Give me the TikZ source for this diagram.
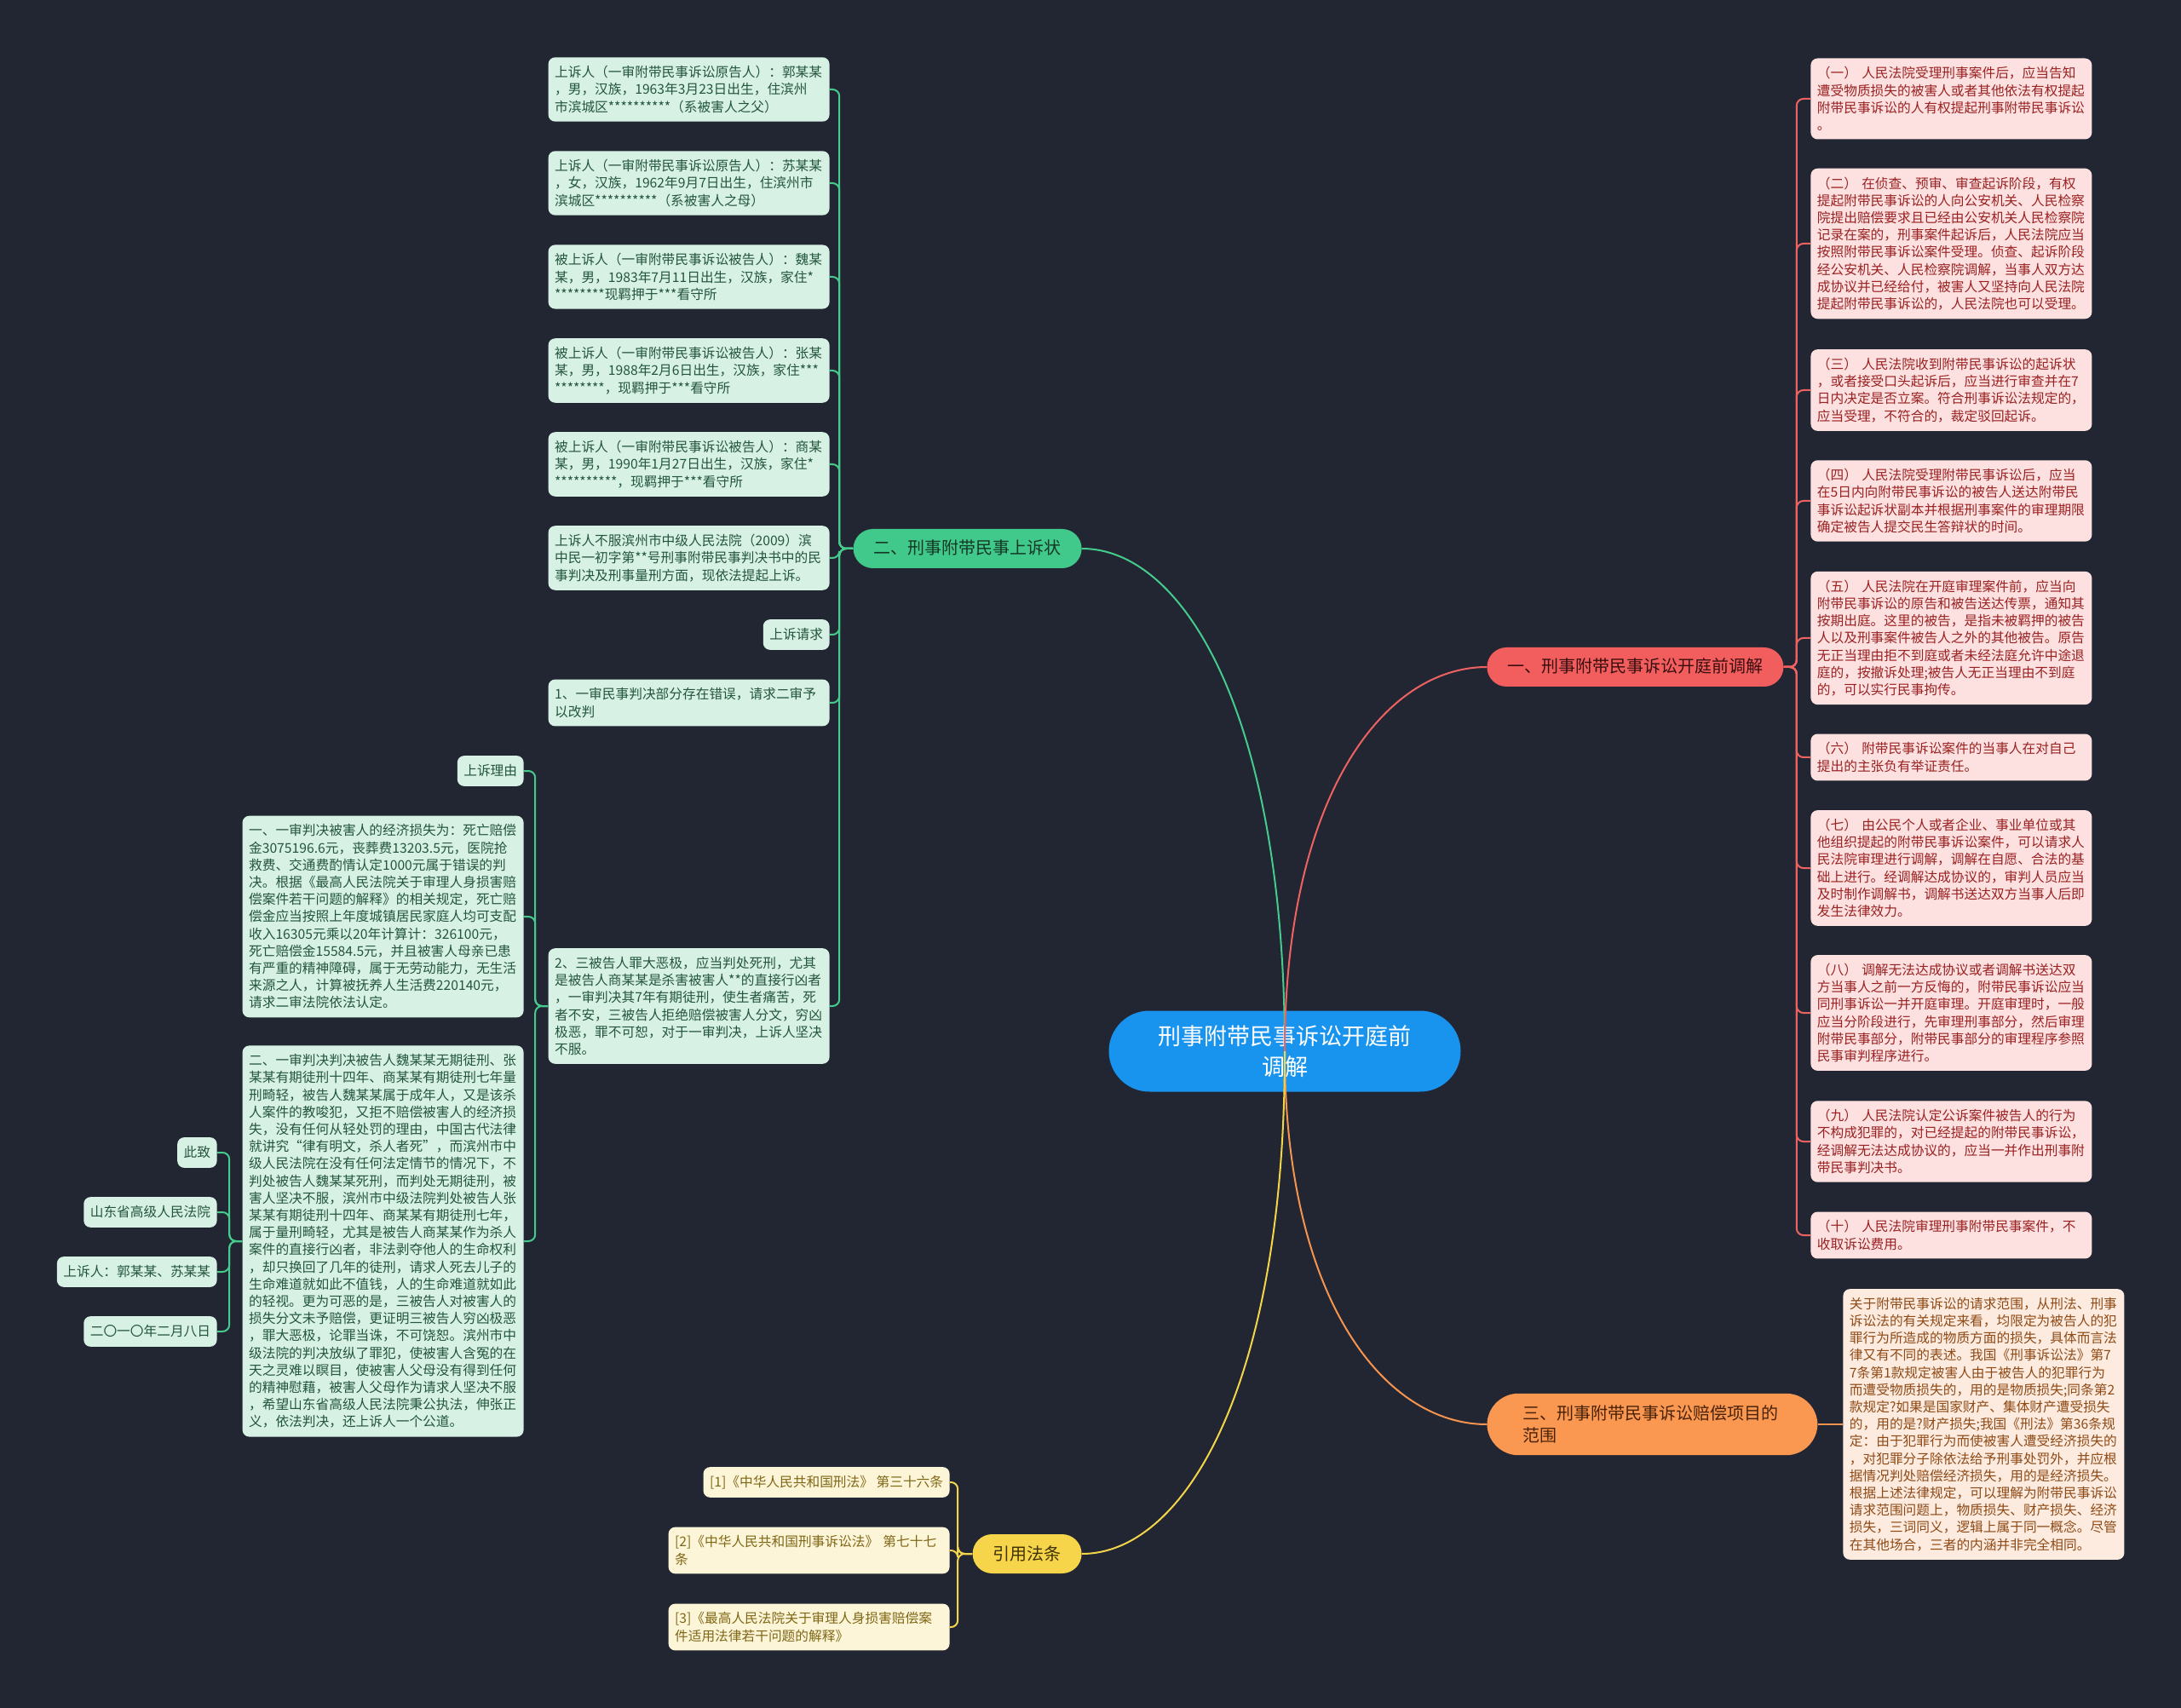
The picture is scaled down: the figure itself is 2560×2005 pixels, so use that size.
\documentclass[tikz,border=0pt]{standalone}
\usepackage{fontspec}
\setmainfont{Noto Sans CJK SC}

\definecolor{bgcol}{HTML}{222632}
\definecolor{rootfill}{HTML}{1893EE}
\definecolor{gfill}{HTML}{D7F2E4}
\definecolor{gtext}{HTML}{24553D}
\definecolor{gcol}{HTML}{45CB8C}
\definecolor{b2fill}{HTML}{40C98A}
\definecolor{b2text}{HTML}{163826}
\definecolor{rfill}{HTML}{FDE1E1}
\definecolor{rtext}{HTML}{9A2121}
\definecolor{rcol}{HTML}{EE6262}
\definecolor{b1fill}{HTML}{F25E5E}
\definecolor{b1text}{HTML}{3A0E0E}
\definecolor{ofill}{HTML}{FDEBDF}
\definecolor{otext}{HTML}{8E4A16}
\definecolor{ocol}{HTML}{F5944F}
\definecolor{b3fill}{HTML}{FA9852}
\definecolor{b3text}{HTML}{4A2208}
\definecolor{yfill}{HTML}{FDF5D8}
\definecolor{ytext}{HTML}{7F6716}
\definecolor{ycol}{HTML}{F3D54A}
\definecolor{b4fill}{HTML}{F6D54A}
\definecolor{b4text}{HTML}{3F3205}

\newcommand\leaffont{\fontsize{7.85pt}{10.1pt}\selectfont}

\tikzset{
  root/.style={fill=rootfill, text=white, rounded corners=23.75pt, minimum width=206.5pt,
    minimum height=47.5pt, align=center, font=\fontsize{13.5pt}{18pt}\selectfont},
  branch/.style={rounded corners=11.5pt, font=\fontsize{10pt}{13pt}\selectfont,
    inner xsep=12pt, inner ysep=6.5pt, text height=8.5pt, text depth=1.5pt},
  leaf/.style={rounded corners=4pt, inner xsep=3.75pt, inner ysep=5pt, font=\leaffont, align=left},
  wide/.style={text width=157.5pt},
  single/.style={text height=6.7pt, text depth=1.15pt},
  gleaf/.style={leaf, fill=gfill, text=gtext},
  rleaf/.style={leaf, fill=rfill, text=rtext, wide, anchor=west},
  oleaf/.style={leaf, fill=ofill, text=otext},
  yleaf/.style={leaf, fill=yfill, text=ytext},
  gconn/.style={draw=gcol, line width=1pt},
  rconn/.style={draw=rcol, line width=1pt},
  oconn/.style={draw=ocol, line width=1pt},
  yconn/.style={draw=ycol, line width=1pt},
  sub/.style={rounded corners=4pt}
}

\begin{document}
\begin{tikzpicture}[x=0.5pt, y=-0.5pt]
  \fill[bgcol] (0,0) rectangle (2560,2005);
  \useasboundingbox (0,0) rectangle (2560,2005);

  % Central topic
  \node[root] (root) at (1508,1234) {刑事附带民事诉讼开庭前\\调解};

  % Main branches
  \node[branch, fill=b2fill, text=b2text, anchor=east] (b2) at (1270,644) {二、刑事附带民事上诉状};
  \node[branch, fill=b1fill, text=b1text, anchor=west] (b1) at (1745,783) {一、刑事附带民事诉讼开庭前调解};
  \node[rounded corners=18.5pt, fill=b3fill, text=b3text, anchor=west, align=left, text width=152pt,
    inner xsep=21pt, inner ysep=7pt, font=\fontsize{10pt}{13pt}\selectfont] (b3) at (1745,1672)
    {三、刑事附带民事诉讼赔偿项目的\\范围};
  \node[branch, fill=b4fill, text=b4text, anchor=east] (b4) at (1270,1824) {引用法条};

  % Appeal: parties and facts
  \foreach \i/\txt in {
    1/{上诉人（一审附带民事诉讼原告人）：郭某某\\，男，汉族，1963年3月23日出生，住滨州\\市滨城区**********（系被害人之父）},
    2/{上诉人（一审附带民事诉讼原告人）：苏某某\\，女，汉族，1962年9月7日出生，住滨州市\\滨城区**********（系被害人之母）},
    3/{被上诉人（一审附带民事诉讼被告人）：魏某\\某，男，1983年7月11日出生，汉族，家住*\\*********现羁押于***看守所},
    4/{被上诉人（一审附带民事诉讼被告人）：张某\\某，男，1988年2月6日出生，汉族，家住***\\*********，现羁押于***看守所},
    5/{被上诉人（一审附带民事诉讼被告人）：商某\\某，男，1990年1月27日出生，汉族，家住*\\***********，现羁押于***看守所},
    6/{上诉人不服滨州市中级人民法院（2009）滨\\中民一初字第**号刑事附带民事判决书中的民\\事判决及刑事量刑方面，现依法提起上诉。}
  }{
    \node[gleaf, wide, anchor=east] (g\i) at (974,{105+110*(\i-1)}) {\txt};
  }
  \node[gleaf, single, anchor=east] (g7) at (974,745) {上诉请求};
  \node[gleaf, wide, anchor=east] (g8) at (974,825) {1、一审民事判决部分存在错误，请求二审予\\以改判};
  \node[gleaf, wide, anchor=east] (g9) at (974,1181) {2、三被告人罪大恶极，应当判处死刑，尤其\\是被告人商某某是杀害被害人**的直接行凶者\\，一审判决其7年有期徒刑，使生者痛苦，死\\者不安，三被告人拒绝赔偿被害人分文，穷凶\\极恶，罪不可恕，对于一审判决，上诉人坚决\\不服。};

  % Grounds of appeal
  \node[gleaf, single, anchor=east] (s1) at (615,905) {上诉理由};
  \node[gleaf, wide, anchor=east] (s2) at (615,1076) {一、一审判决被害人的经济损失为：死亡赔偿\\金3075196.6元，丧葬费13203.5元，医院抢\\救费、交通费酌情认定1000元属于错误的判\\决。根据《最高人民法院关于审理人身损害赔\\偿案件若干问题的解释》的相关规定，死亡赔\\偿金应当按照上年度城镇居民家庭人均可支配\\收入16305元乘以20年计算计：326100元，\\死亡赔偿金15584.5元，并且被害人母亲已患\\有严重的精神障碍，属于无劳动能力，无生活\\来源之人，计算被抚养人生活费220140元，\\请求二审法院依法认定。};
  \node[gleaf, wide, anchor=east] (s3) at (615,1457) {二、一审判决判决被告人魏某某无期徒刑、张\\某某有期徒刑十四年、商某某有期徒刑七年量\\刑畸轻，被告人魏某某属于成年人，又是该杀\\人案件的教唆犯，又拒不赔偿被害人的经济损\\失，没有任何从轻处罚的理由，中国古代法律\\就讲究“律有明文，杀人者死”，而滨州市中\\级人民法院在没有任何法定情节的情况下，不\\判处被告人魏某某死刑，而判处无期徒刑，被\\害人坚决不服，滨州市中级法院判处被告人张\\某某有期徒刑十四年、商某某有期徒刑七年，\\属于量刑畸轻，尤其是被告人商某某作为杀人\\案件的直接行凶者，非法剥夺他人的生命权利\\，却只换回了几年的徒刑，请求人死去儿子的\\生命难道就如此不值钱，人的生命难道就如此\\的轻视。更为可恶的是，三被告人对被害人的\\损失分文未予赔偿，更证明三被告人穷凶极恶\\，罪大恶极，论罪当诛，不可饶恕。滨州市中\\级法院的判决放纵了罪犯，使被害人含冤的在\\天之灵难以瞑目，使被害人父母没有得到任何\\的精神慰藉，被害人父母作为请求人坚决不服\\，希望山东省高级人民法院秉公执法，伸张正\\义，依法判决，还上诉人一个公道。};

  % Closing lines
  \node[gleaf, single, anchor=east] (c1) at (255,1353) {此致};
  \node[gleaf, single, anchor=east] (c2) at (255,1423) {山东省高级人民法院};
  \node[gleaf, single, anchor=east] (c3) at (255,1493) {上诉人：郭某某、苏某某};
  \node[gleaf, single, anchor=east] (c4) at (255,1563) {二〇一〇年二月八日};

  % Mediation before trial
  \foreach \i/\y/\txt in {
    1/116/{（一） 人民法院受理刑事案件后，应当告知\\遭受物质损失的被害人或者其他依法有权提起\\附带民事诉讼的人有权提起刑事附带民事诉讼\\。},
    2/286/{（二） 在侦查、预审、审查起诉阶段，有权\\提起附带民事诉讼的人向公安机关、人民检察\\院提出赔偿要求且已经由公安机关人民检察院\\记录在案的，刑事案件起诉后，人民法院应当\\按照附带民事诉讼案件受理。侦查、起诉阶段\\经公安机关、人民检察院调解，当事人双方达\\成协议并已经给付，被害人又坚持向人民法院\\提起附带民事诉讼的，人民法院也可以受理。},
    3/458/{（三） 人民法院收到附带民事诉讼的起诉状\\，或者接受口头起诉后，应当进行审查并在7\\日内决定是否立案。符合刑事诉讼法规定的，\\应当受理，不符合的，裁定驳回起诉。},
    4/588/{（四） 人民法院受理附带民事诉讼后，应当\\在5日内向附带民事诉讼的被告人送达附带民\\事诉讼起诉状副本并根据刑事案件的审理期限\\确定被告人提交民生答辩状的时间。},
    5/749/{（五） 人民法院在开庭审理案件前，应当向\\附带民事诉讼的原告和被告送达传票，通知其\\按期出庭。这里的被告，是指未被羁押的被告\\人以及刑事案件被告人之外的其他被告。原告\\无正当理由拒不到庭或者未经法庭允许中途退\\庭的，按撤诉处理;被告人无正当理由不到庭\\的，可以实行民事拘传。},
    6/889/{（六） 附带民事诉讼案件的当事人在对自己\\提出的主张负有举证责任。},
    7/1019/{（七） 由公民个人或者企业、事业单位或其\\他组织提起的附带民事诉讼案件，可以请求人\\民法院审理进行调解，调解在自愿、合法的基\\础上进行。经调解达成协议的，审判人员应当\\及时制作调解书，调解书送达双方当事人后即\\发生法律效力。},
    8/1189/{（八） 调解无法达成协议或者调解书送达双\\方当事人之前一方反悔的，附带民事诉讼应当\\同刑事诉讼一并开庭审理。开庭审理时，一般\\应当分阶段进行，先审理刑事部分，然后审理\\附带民事部分，附带民事部分的审理程序参照\\民事审判程序进行。},
    9/1340/{（九） 人民法院认定公诉案件被告人的行为\\不构成犯罪的，对已经提起的附带民事诉讼，\\经调解无法达成协议的，应当一并作出刑事附\\带民事判决书。},
    10/1450/{（十） 人民法院审理刑事附带民事案件，不\\收取诉讼费用。}
  }{
    \node[rleaf] (r\i) at (2125,\y) {\txt};
  }

  % Scope of compensation
  \node[oleaf, wide, anchor=west] (o1) at (2163,1672) {关于附带民事诉讼的请求范围，从刑法、刑事\\诉讼法的有关规定来看，均限定为被告人的犯\\罪行为所造成的物质方面的损失，具体而言法\\律又有不同的表述。我国《刑事诉讼法》第7\\7条第1款规定被害人由于被告人的犯罪行为\\而遭受物质损失的，用的是物质损失;同条第2\\款规定?如果是国家财产、集体财产遭受损失\\的，用的是?财产损失;我国《刑法》第36条规\\定：由于犯罪行为而使被害人遭受经济损失的\\，对犯罪分子除依法给予刑事处罚外，并应根\\据情况判处赔偿经济损失，用的是经济损失。\\根据上述法律规定，可以理解为附带民事诉讼\\请求范围问题上，物质损失、财产损失、经济\\损失，三词同义，逻辑上属于同一概念。尽管\\在其他场合，三者的内涵并非完全相同。};

  % Cited laws
  \node[yleaf, single, anchor=east] (y1) at (1115,1740) {[1]《中华人民共和国刑法》 第三十六条};
  \node[yleaf, wide, anchor=east] (y2) at (1115,1820) {[2]《中华人民共和国刑事诉讼法》 第七十七\\条};
  \node[yleaf, wide, anchor=east] (y3) at (1115,1910) {[3]《最高人民法院关于审理人身损害赔偿案\\件适用法律若干问题的解释》};

  % Connections from the central topic
  \draw[gconn] (root.center) .. controls (1508,839) and (1389,644) .. (b2.east);
  \draw[rconn] (root.center) .. controls (1508,932) and (1626,783) .. (b1.west);
  \draw[oconn] (root.center) .. controls (1508,1527) and (1626,1672) .. (b3.west);
  \draw[yconn] (root.center) .. controls (1508,1629) and (1389,1824) .. (b4.east);

  % Sub-branches
  \foreach \i in {1,...,9}
    \draw[gconn, sub] (b2.west) -- ++(-16,0) |- (g\i.east);
  \foreach \i in {1,2,3}
    \draw[gconn, sub] (g9.west) -- ++(-15,0) |- (s\i.east);
  \foreach \i in {1,...,4}
    \draw[gconn, sub] (s3.west) -- ++(-15,0) |- (c\i.east);
  \foreach \i in {1,...,10}
    \draw[rconn, sub] (b1.east) -- ++(15,0) |- (r\i.west);
  \draw[oconn] (b3.east) -- (o1.west);
  \foreach \i in {1,2,3}
    \draw[yconn, sub] (b4.west) -- ++(-17,0) |- (y\i.east);
\end{tikzpicture}
\end{document}
